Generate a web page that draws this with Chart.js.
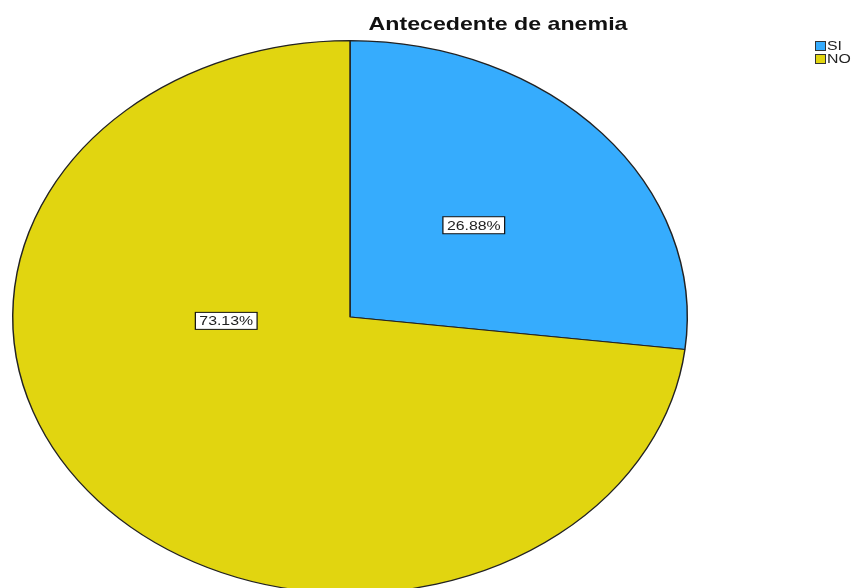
<!DOCTYPE html>
<html>
<head>
<meta charset="utf-8">
<script src="https://cdn.jsdelivr.net/npm/chart.js@4/dist/chart.umd.min.js"></script>
<style>
  html, body { margin: 0; padding: 0; background: #fff; }
  #wrap { position: relative; width: 867px; height: 588px; overflow: hidden; }
  .estirado { position: absolute; white-space: nowrap; font-family: "Liberation Sans", Arial, sans-serif; }
  #titulo {
    left: 498px; top: 14px; line-height: 19px; font-size: 19px; font-weight: bold; color: #111;
    transform: translateX(-50%) scaleX(1.22);
  }
  .sw { position: absolute; width: 11px; height: 10px; box-sizing: border-box; border: 1px solid #333; }
  .ley { font-size: 13px; line-height: 13px; color: #222; transform: scaleX(1.22); transform-origin: 0 0; }
</style>
</head>
<body>
<div id="wrap">
  <canvas id="chartAnemia" width="867" height="600"></canvas>
  <div id="titulo" class="estirado">Antecedente de anemia</div>
  <div id="leyenda"></div>
</div>
<script>
// ── datos ───────────────────────────────
const categorias = ['SI', 'NO'];
const porcentajes = [26.88, 73.13];
const colores = ['#36acfd', '#e1d510'];

// leyenda (arriba a la derecha)
document.getElementById('leyenda').innerHTML = categorias.map((c, i) =>
  `<span class="sw" style="left:815px;top:${41 + i * 13}px;background:${colores[i]}"></span>` +
  `<span class="estirado ley" style="left:827px;top:${39 + i * 13}px">${c}</span>`).join('');

// el gráfico de SPSS viene estirado en horizontal
const escalaX = 338 / 277;

const elipse = {
  id: 'elipse',
  beforeDatasetsDraw(chart) {
    const arc = chart.getDatasetMeta(0).data[0];
    const c = chart.ctx;
    c.save();
    c.translate(arc.x, arc.y); c.scale(escalaX, 1); c.translate(-arc.x, -arc.y);
  },
  afterDatasetsDraw(chart) {
    chart.ctx.restore();
    // etiquetas con recuadro
    const c = chart.ctx;
    const arcos = chart.getDatasetMeta(0).data;
    const pos = chart.options.plugins.elipse.anclas;
    arcos.forEach((a, i) => {
      const r = a.outerRadius;
      const x = a.x + pos[i][0] * r * escalaX;
      const y = a.y + pos[i][1] * r;
      const txt = porcentajes[i].toFixed(2) + '%';
      c.save();
      c.translate(x, y); c.scale(escalaX, 1);
      c.font = '13px "Liberation Sans", Arial, sans-serif';
      c.textAlign = 'center'; c.textBaseline = 'middle';
      const w = c.measureText(txt).width + 6.5, h = 17;
      c.fillStyle = '#fff'; c.fillRect(-w / 2, -h / 2, w, h);
      c.strokeStyle = '#111'; c.lineWidth = 1; c.strokeRect(-w / 2, -h / 2, w, h);
      c.fillStyle = '#222'; c.fillText(txt, 0, 1);
      c.restore();
    });
  }
};

new Chart(document.getElementById('chartAnemia'), {
  type: 'pie',
  data: {
    labels: categorias,
    datasets: [{
      data: porcentajes,
      backgroundColor: colores,
      borderColor: '#222',
      borderWidth: 1.2,
      hoverOffset: 0
    }]
  },
  options: {
    responsive: false,
    animation: false,
    devicePixelRatio: 1,
    layout: { padding: { left: 73, right: 240, top: 40, bottom: 6 } },
    plugins: {
      legend: { display: false },
      title: { display: false },
      tooltip: { enabled: false },
      elipse: { anclas: [[0.367, -0.332], [-0.367, 0.014]] }
    }
  },
  plugins: [elipse]
});
</script>
</body>
</html>
